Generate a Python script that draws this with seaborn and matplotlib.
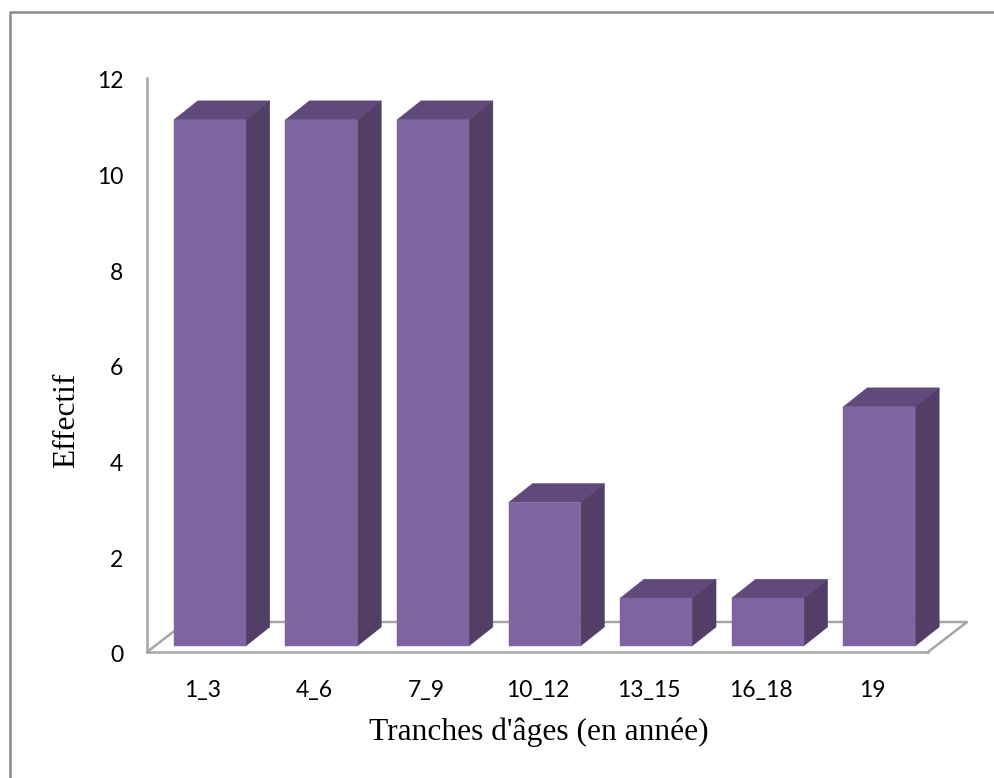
import matplotlib
matplotlib.use("Agg")
import matplotlib.pyplot as plt
import matplotlib.transforms as mtransforms
from matplotlib.lines import Line2D
from matplotlib.patches import Polygon
import pandas as pd
import seaborn as sns

# Values
tranches = ["1_3", "4_6", "7_9", "10_12", "13_15", "16_18", "19"]
effectifs = [11, 11, 11, 3, 1, 1, 5]
y_ticks = [0, 2, 4, 6, 8, 10, 12]

FRONT = "#8064A2"
TOP = "#604A7B"
SIDE = "#533F66"
GREY = "#A6A6A6"
W, H = 994, 778
DEPTH_X, DEPTH_Y = 24, 19  # fake 3D depth, pixels


def px(x, y):
    # image pixel (origin top left) to figure fraction
    return x / W, 1 - y / H


sns.set_theme(style="white")
plt.rcParams["font.family"] = ["Lato", "DejaVu Sans"]

df = pd.DataFrame({"Tranche": tranches, "Effectif": effectifs})

fig = plt.figure(figsize=(W / 100, H / 100), dpi=100)

# only the top and left edges of the chart border are in the picture
border = [(10, H), (10, 12), (W, 12)]
xs, ys = zip(*[px(*p) for p in border])
fig.add_artist(Line2D(xs, ys, color="#8C8C8C", lw=1.8))

ax = fig.add_axes([147 / W, 1 - 652 / H, 781 / W, 574 / H])
ax.patch.set_alpha(0)
sns.barplot(data=df, x="Tranche", y="Effectif", order=tranches, color=FRONT,
            saturation=1, width=0.645, ax=ax, zorder=3)
ax.set_xlim(-0.5, 6.5)
ax.set_ylim(0, 12)
ax.set_yticks(y_ticks)
ax.tick_params(axis="both", length=0, labelsize=16.5, labelcolor="black")
ax.tick_params(axis="x", pad=20)
ax.tick_params(axis="y", pad=17)
ax.set_xlabel("")
ax.set_ylabel("")
sns.despine(ax=ax)
for side in ["left", "bottom"]:
    ax.spines[side].set_color(GREY)
    ax.spines[side].set_linewidth(1.8)

# tick labels sit a little lower than the wall scale
down = mtransforms.ScaledTranslation(0, -2 / 100, fig.dpi_scale_trans)
for label in ax.get_yticklabels():
    label.set_transform(label.get_transform() + down)

# floor of the 3D box, behind the bars
floor = [(147, 652), (186, 622), (967, 622), (928, 652)]
xs, ys = zip(*[px(*p) for p in floor])
ax.add_line(Line2D(xs, ys, color=GREY, lw=1.8, zorder=1, transform=fig.transFigure,
                   clip_on=False))

# bars sit in front of the wall, so shift them, then add top and side faces
fig.canvas.draw()
shift = mtransforms.ScaledTranslation(7 / 100, 6 / 100, fig.dpi_scale_trans)
for bar in list(ax.patches):
    x0, x1 = bar.get_x(), bar.get_x() + bar.get_width()
    h = bar.get_height()
    bar.set_transform(ax.transData + shift)
    bar.set_clip_on(False)
    bar.set_edgecolor(FRONT)
    bar.set_linewidth(0.3)
    corners = (ax.transData + shift).transform([(x0, 0), (x1, 0), (x1, h), (x0, h)])
    (_, _), (rx, by), (_, ty), (lx, _) = corners
    top = [(lx, ty), (rx, ty), (rx + DEPTH_X, ty + DEPTH_Y), (lx + DEPTH_X, ty + DEPTH_Y)]
    right = [(rx, by), (rx + DEPTH_X, by + DEPTH_Y), (rx + DEPTH_X, ty + DEPTH_Y), (rx, ty)]
    for pts, col in [(top, TOP), (right, SIDE)]:
        ax.add_patch(Polygon(pts, closed=True, fc=col, ec=col, lw=0.3,
                             transform=mtransforms.IdentityTransform(),
                             clip_on=False, zorder=2))

tx, ty = px(539, 732)
fig.text(tx, ty, "Tranches d'âges (en année)", family="Liberation Serif", fontsize=22.7,
         ha="center", va="center", color="black")
tx, ty = px(67, 420)
fig.text(tx, ty, "Effectif", family="Liberation Serif", fontsize=22.7, rotation=90,
         ha="center", va="center", color="black")

fig.savefig("out.png", dpi=100)
